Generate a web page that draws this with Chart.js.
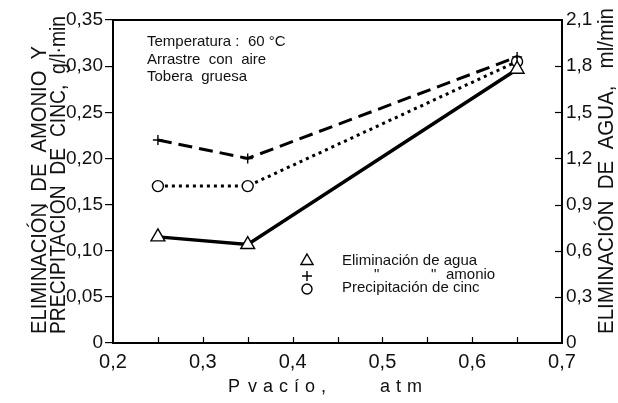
<!DOCTYPE html>
<html>
<head>
<meta charset="utf-8">
<script src="https://cdn.jsdelivr.net/npm/chart.js@4.4.1/dist/chart.umd.min.js"></script>
<style>
  html, body { margin: 0; padding: 0; background: #fff; }
  #wrap { width: 618px; height: 403px; }
</style>
</head>
<body>
<div id="wrap"><canvas id="grafico"></canvas></div>
<script>
// datos
var presion = [0.25, 0.35, 0.65];           // P vacio, atm
var amonio = [0.22, 0.20, 0.31];            // g/l.min
var cinc = [0.17, 0.17, 0.305];             // g/l.min
var agua = [0.69, 0.64, 1.78];              // ml/min (eje derecho)
var ticksX = [0.2, 0.3, 0.4, 0.5, 0.6, 0.7];
var ticksIzq = [0, 0.05, 0.10, 0.15, 0.20, 0.25, 0.30, 0.35];
var ticksDer = [0, 0.3, 0.6, 0.9, 1.2, 1.5, 1.8, 2.1];
var notas = ['Temperatura :  60 °C', 'Arrastre  con  aire', 'Tobera  gruesa'];
var leyenda = ['Eliminación de agua', 'amonio', 'Precipitación de cinc'];

var fuente = "'Liberation Sans', Arial, sans-serif";

function puntos(ys) {
    return presion.map(function (p, i) { return { x: p, y: ys[i] }; });
}

function coma(v, d) {
    if (v === 0) return '0';
    return v.toFixed(d).replace('.', ',');
}

var extras = {
    id: 'extras',
    afterDraw: function (chart) {
        var ctx = chart.ctx;
        var a = chart.chartArea;
        var xs = chart.scales.x;
        var yd = chart.scales.y2;
        ctx.save();
        ctx.strokeStyle = '#000';
        ctx.fillStyle = '#111';

        // marco superior
        ctx.lineWidth = 2;
        ctx.beginPath();
        ctx.moveTo(a.left, a.top);
        ctx.lineTo(a.right, a.top);
        ctx.stroke();

        // marcas hacia dentro
        ctx.lineWidth = 1.2;
        for (var v = 0.25; v < 0.7; v += 0.05) {
            var px = Math.round(xs.getPixelForValue(v)) + 0.5;
            ctx.beginPath();
            ctx.moveTo(px, a.bottom);
            ctx.lineTo(px, a.bottom - 6);
            ctx.stroke();
        }
        ticksDer.forEach(function (t) {
            if (t === 0 || t === 2.1) return;
            var py = Math.round(yd.getPixelForValue(t)) + 0.5;
            ctx.beginPath();
            ctx.moveTo(a.right, py);
            ctx.lineTo(a.right - 7, py);
            ctx.stroke();
        });

        // titulos verticales
        function vtexto(txt, x, yb, largo, f) {
            ctx.save();
            ctx.translate(x, yb);
            ctx.rotate(-Math.PI / 2);
            ctx.font = f;
            ctx.textAlign = 'left';
            ctx.textBaseline = 'middle';
            ctx.fillText(txt, 0, 0, largo);
            ctx.restore();
        }
        vtexto('ELIMINACIÓN  DE  AMONIO  Y', 40, 334, 288, '22px ' + fuente);
        vtexto('PRECIPITACIÓN  DE  CINC,  g/l·min', 59, 334, 318, '22px ' + fuente);
        vtexto('ELIMINACIÓN  DE  AGUA,   ml/min', 607, 334, 326, '22px ' + fuente);

        // titulo eje x
        ctx.font = '18px ' + fuente;
        ctx.textAlign = 'left';
        ctx.textBaseline = 'middle';
        ctx.letterSpacing = '6px';
        ctx.fillText('P', 228, 387);
        ctx.fillText('vacío,', 248, 387);
        ctx.fillText('atm', 380, 387);
        ctx.letterSpacing = '0px';

        // notas
        ctx.font = '15px ' + fuente;
        notas.forEach(function (n, i) {
            ctx.fillText(n, 147, 42 + i * 17.5);
        });

        // leyenda
        ctx.font = '15px ' + fuente;
        ctx.fillText(leyenda[0], 342, 261);
        ctx.fillText('"', 374, 275);
        ctx.fillText('"', 431, 275);
        ctx.fillText(leyenda[1], 446, 275);
        ctx.fillText(leyenda[2], 342, 288);
        var simb = [['triangle', 7, 261], ['cross', 5, 276], ['circle', 5, 289]];
        simb.forEach(function (s) {
            ctx.lineWidth = 1.4;
            ctx.fillStyle = '#fff';
            Chart.helpers.drawPoint(ctx, { pointStyle: s[0], radius: s[1], borderWidth: 1.4 }, 307, s[2]);
        });
        ctx.restore();
    }
};

function createChart() {
    var ctx = document.getElementById('grafico').getContext('2d');
    var marca = {
        pointBackgroundColor: '#fff',
        pointBorderColor: '#000',
        pointBorderWidth: 1.4,
        borderColor: '#000',
        fill: false,
        tension: 0
    };

    new Chart(ctx, {
        type: 'line',
        data: {
            datasets: [
                Object.assign({
                    label: 'Eliminación de agua',
                    data: puntos(agua),
                    yAxisID: 'y2',
                    borderWidth: 3.5,
                    pointStyle: 'triangle',
                    pointRadius: 8
                }, marca),
                Object.assign({
                    label: 'Eliminación de amonio',
                    data: puntos(amonio),
                    yAxisID: 'y',
                    borderWidth: 3,
                    borderDash: [14, 7],
                    pointStyle: 'cross',
                    pointRadius: 5
                }, marca),
                Object.assign({
                    label: 'Precipitación de cinc',
                    data: puntos(cinc),
                    yAxisID: 'y',
                    borderWidth: 3,
                    borderDash: [3, 4],
                    pointStyle: 'circle',
                    pointRadius: 5.5
                }, marca)
            ]
        },
        options: {
            responsive: true,
            maintainAspectRatio: false,
            animation: false,
            layout: { padding: { top: 20, left: 0, right: 0, bottom: 0 } },
            plugins: {
                legend: { display: false },
                tooltip: { enabled: false }
            },
            scales: {
                x: {
                    type: 'linear',
                    min: 0.2,
                    max: 0.7,
                    afterBuildTicks: function (s) {
                        s.ticks = ticksX.map(function (v) { return { value: v }; });
                    },
                    afterFit: function (s) { s.height = 60; },
                    border: { display: true, color: '#000', width: 2 },
                    grid: { display: false, drawOnChartArea: false, drawTicks: false },
                    ticks: {
                        padding: 7,
                        color: '#111',
                        font: { family: fuente, size: 20 },
                        callback: function (v) { return coma(v, 1); }
                    }
                },
                y: {
                    position: 'left',
                    min: 0,
                    max: 0.35,
                    afterBuildTicks: function (s) {
                        s.ticks = ticksIzq.map(function (v) { return { value: v }; });
                    },
                    afterFit: function (s) { s.width = 113; },
                    border: { display: true, color: '#000', width: 2 },
                    grid: { drawOnChartArea: false, drawTicks: true, tickLength: 8, color: '#000', lineWidth: 1.2 },
                    ticks: {
                        padding: 2,
                        color: '#111',
                        font: { family: fuente, size: 19 },
                        callback: function (v) { return coma(v, 2); }
                    }
                },
                y2: {
                    position: 'right',
                    min: 0,
                    max: 2.1,
                    afterBuildTicks: function (s) {
                        s.ticks = ticksDer.map(function (v) { return { value: v }; });
                    },
                    afterFit: function (s) { s.width = 56; },
                    border: { display: true, color: '#000', width: 2 },
                    grid: { display: false, drawOnChartArea: false, drawTicks: false },
                    ticks: {
                        padding: 4,
                        color: '#111',
                        font: { family: fuente, size: 19 },
                        callback: function (v) { return coma(v, 1); }
                    }
                }
            }
        },
        plugins: [extras]
    });
}

document.addEventListener('DOMContentLoaded', function () {
    createChart();
});
</script>
</body>
</html>
